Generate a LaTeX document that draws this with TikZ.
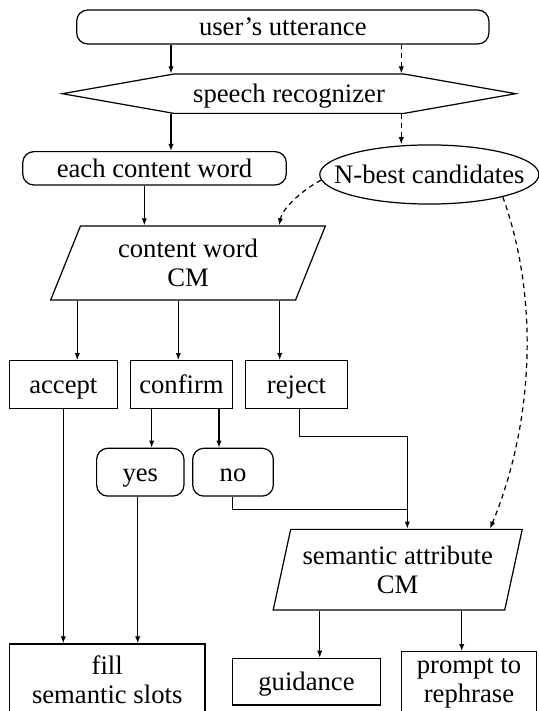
\documentclass[tikz,border=0pt]{standalone}
\usepackage{fontspec}
\setmainfont{Liberation Serif}
\usetikzlibrary{arrows.meta,shapes.geometric,shapes.symbols}

\begin{document}
\begin{tikzpicture}[x=0.45pt,y=-0.45pt,>={Latex[length=3.2pt,width=2.4pt]},
  line width=0.55pt,
  font=\fontsize{12}{13}\selectfont,
  one/.style={text height=9pt,text depth=1pt},
  rbox/.style={draw,rounded corners=5pt,inner sep=1pt,align=center},
  sbox/.style={draw,inner sep=1pt,align=center},
  para/.style={draw,trapezium,trapezium stretches=true,inner sep=1pt,align=center},
  dsh/.style={dash pattern=on 2.2pt off 1.8pt}]
  \useasboundingbox (0,0) rectangle (539,711);
  \clip (0,0) rectangle (539,711);
  % lanes of the vertical connectors
  \coordinate (ka) at (171,0);   \coordinate (kb) at (401.3,0);
  \coordinate (kc) at (144.3,0); \coordinate (kp) at (279,0);
  \coordinate (kd) at (77.3,0);  \coordinate (ke) at (178.3,0);
  \coordinate (kf) at (279.7,0); \coordinate (kh) at (151.7,0);
  \coordinate (ki) at (219,0);   \coordinate (kj) at (137.7,0);
  \coordinate (kk) at (232.3,0); \coordinate (kl) at (299.7,0);
  \coordinate (km) at (407.3,0); \coordinate (kq) at (490,0);
  \coordinate (kn) at (319.7,0); \coordinate (ko) at (461.7,0);
  \coordinate (jn) at (407.3,509.3);
  % nodes
  \node[rbox,one,minimum width=185.5pt,minimum height=15.3pt] (utt) at (282.8,27) {user's utterance};
  \node[draw,one,signal,signal to=east and west,signal pointer angle=20,
    minimum width=204pt,minimum height=17.7pt,inner sep=1pt] (rec) at (289,93.7) {speech recognizer};
  \node[rbox,one,minimum width=118.6pt,minimum height=15pt] (cw) at (154.5,168.3) {each content word};
  \node[draw,one,ellipse,minimum width=98.6pt,minimum height=26.6pt,inner xsep=-8pt,inner ysep=0pt]
    (nbest) at (429.3,174.5) {N-best candidates};
  \node[para,trapezium left angle=69,trapezium right angle=111,
    minimum width=124.2pt,minimum height=33.3pt] (cwcm) at (188,263) {content word\\CM};
  \node[sbox,one,minimum width=48.6pt,minimum height=21.4pt] (acc) at (63.3,384.5) {accept};
  \node[sbox,one,minimum width=45.7pt,minimum height=21.4pt] (conf) at (181.5,384.5) {confirm};
  \node[sbox,one,minimum width=45.7pt,minimum height=21.4pt] (rej) at (296.5,384.5) {reject};
  \node[rbox,one,minimum width=39.3pt,minimum height=21.5pt] (yes) at (140.3,472.2) {yes};
  \node[rbox,one,minimum width=36.3pt,minimum height=21.5pt] (no) at (233,472.2) {no};
  \node[para,trapezium left angle=73,trapezium right angle=107,
    minimum width=112.2pt,minimum height=36.3pt] (sacm) at (397.7,569.7) {semantic attribute\\CM};
  \node[sbox,minimum width=88.1pt,minimum height=32.4pt] (fill) at (107.2,680) {fill\\semantic slots};
  \node[sbox,one,minimum width=66.8pt,minimum height=21pt] (guid) at (306.5,681.7) {guidance};
  \node[sbox,minimum width=60.9pt,minimum height=28.4pt] (prm) at (469,683.3) {prompt to\\rephrase};
  % connectors
  \draw[->] (utt.south -| ka) -- (rec.north -| ka);
  \draw[->,dsh] (utt.south -| kb) -- (rec.north -| kb);
  \draw[->] (rec.south -| ka) -- (cw.north -| ka);
  \draw[->,dsh] (rec.south -| kb) -- (nbest.north -| kb);
  \draw[->] (cw.south -| kc) -- (cwcm.north -| kc);
  \draw[->,dsh] (nbest.183) .. controls (304,189) and (283,207) .. (cwcm.north -| kp);
  \draw[->,dsh] (nbest.343) .. controls (540,300) and (533,425) .. (sacm.north -| kq);
  \draw[->] (cwcm.south -| kd) -- (acc.north -| kd);
  \draw[->] (cwcm.south -| ke) -- (conf.north -| ke);
  \draw[->] (cwcm.south -| kf) -- (rej.north -| kf);
  \draw[->] (acc.south) -- (acc.south |- fill.north);
  \draw[->] (conf.south -| kh) -- (yes.north -| kh);
  \draw[->] (conf.south -| ki) -- (no.north -| ki);
  \draw[->] (yes.south -| kj) -- (fill.north -| kj);
  \draw (no.south -| kk) |- (jn);
  \draw[->] (rej.south -| kl) -- ++(0,27.4) -| (sacm.north -| km);
  \draw[->] (sacm.south -| kn) -- (guid.north -| kn);
  \draw[->] (sacm.south -| ko) -- (prm.north -| ko);
\end{tikzpicture}
\end{document}
